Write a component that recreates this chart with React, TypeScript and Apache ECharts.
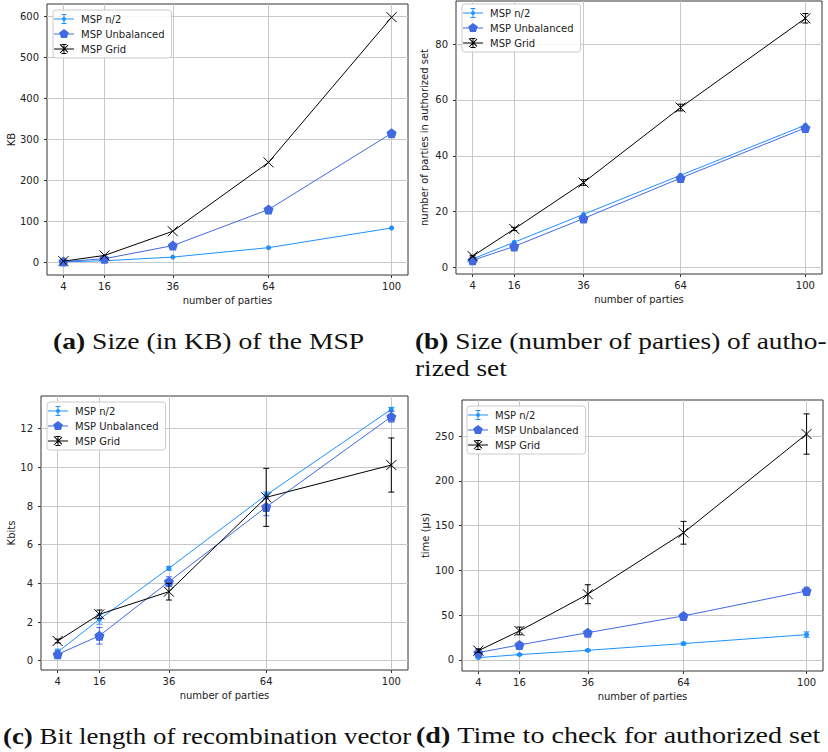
import React, { useEffect, useRef } from "react";
import * as echarts from "echarts";

// ---------- data ----------
const parties = [4, 16, 36, 64, 100];
const seriesNames = ["MSP n/2", "MSP Unbalanced", "MSP Grid"];

// (a) size in KB of the MSP
const kbN2 = [0.5, 3, 12, 35, 83];
const kbUnbalanced = [1, 8, 40, 128, 314];
const kbGrid = [2, 16, 75, 243, 597];
const kbN2Err = [0, 0, 0, 0, 0];
const kbUnbalancedErr = [0, 0, 0, 0, 0];
const kbGridErr = [0, 0, 0, 0, 0];
const kbTicks = [0, 100, 200, 300, 400, 500, 600];

// (b) number of parties in authorized set
const setN2 = [3, 9, 19, 33, 51];
const setUnbalanced = [2.5, 7.5, 17.5, 32, 50];
const setGrid = [4, 13.75, 30.4, 57.3, 89.3];
const setN2Err = [0, 0, 0, 0, 0];
const setUnbalancedErr = [0, 0, 0, 0, 0];
const setGridErr = [0.3, 0.6, 1.0, 1.2, 1.7];
const setTicks = [0, 20, 40, 60, 80];

// (c) bit length of recombination vector (Kbits)
const bitsN2 = [0.45, 2.14, 4.78, 8.57, 13.0];
const bitsUnbalanced = [0.33, 1.29, 4.09, 7.95, 12.62];
const bitsGrid = [1.02, 2.4, 3.57, 8.45, 10.12];
const bitsN2Err = [0.15, 0.25, 0.1, 0.15, 0.1];
const bitsUnbalancedErr = [0.2, 0.43, 0.25, 0.45, 0.28];
const bitsGridErr = [0.1, 0.22, 0.43, 1.5, 1.4];
const bitsTicks = [0, 2, 4, 6, 8, 10, 12];

// (d) time to check for authorized set (µs)
const timeN2 = [2.6, 6, 10.8, 18.3, 28.3];
const timeUnbalanced = [8.2, 16.8, 30.5, 49.2, 77.1];
const timeGrid = [10.4, 32.4, 73.4, 142, 252.2];
const timeN2Err = [0.5, 0.8, 1, 1.5, 3];
const timeUnbalancedErr = [1, 1.5, 2, 2.5, 4];
const timeGridErr = [2, 4.3, 10.6, 12.7, 22.5];
const timeTicks = [0, 50, 100, 150, 200, 250];

const captionA = "Size (in KB) of the MSP";
const captionB1 = "Size (number of parties) of autho-";
const captionB2 = "rized set";
const captionC = "Bit length of recombination vector";
const captionD = "Time to check for authorized set";

// ---------- styles ----------
const COLORS = ["#1e90ff", "#4169e1", "#000000"];
const FONT = "DejaVu Sans";
const SERIF = "Liberation Serif";

const PENTAGON = "path://M50,0 L97.55,34.55 L79.39,90.45 L20.61,90.45 L2.45,34.55 Z";
const XMARK = "path://M0,0 L10,10 M10,0 L0,10";

const LINE_RECT = "M0,4.5 H20 V5.5 H0 Z";
const ICON_N2 =
  "path://" +
  LINE_RECT +
  " M9.5,0 H10.5 V10 H9.5 Z M7.5,0 H12.5 V0.9 H7.5 Z M7.5,9.1 H12.5 V10 H7.5 Z" +
  " M8,5 A2,2 0 1 1 12,5 A2,2 0 1 1 8,5 Z";
const ICON_UNB =
  "path://" + LINE_RECT + " M10,0 L14.76,3.45 L12.94,9.05 L7.06,9.05 L5.24,3.45 Z M0,0 H0.01 V10 H0 Z";
const ICON_GRID =
  "path://" +
  LINE_RECT +
  " M9.5,0 H10.5 V10 H9.5 Z M7.5,0 H12.5 V0.9 H7.5 Z M7.5,9.1 H12.5 V10 H7.5 Z" +
  " M5.65,0.65 L6.35,-0.05 L14.35,7.95 L13.65,8.65 Z" +
  " M13.65,0.65 L14.35,1.35 L6.35,9.35 L5.65,8.65 Z";

type Panel = {
  grid: { left: number; top: number; width: number; height: number };
  yMin: number;
  yMax: number;
  yTicks: number[];
  yName: string;
  yNameGap: number;
  values: number[][];
  errors: number[][];
  legend: { left: number; top: number };
};

const panels: Panel[] = [
  {
    grid: { left: 47, top: 4, width: 361, height: 271 },
    yMin: -31.7,
    yMax: 629.3,
    yTicks: kbTicks,
    yName: "KB",
    yNameGap: 30,
    values: [kbN2, kbUnbalanced, kbGrid],
    errors: [kbN2Err, kbUnbalancedErr, kbGridErr],
    legend: { left: 53, top: 10 },
  },
  {
    grid: { left: 456, top: 1, width: 366, height: 273 },
    yMin: -2.4,
    yMax: 95.5,
    yTicks: setTicks,
    yName: "number of parties in authorized set",
    yNameGap: 27,
    values: [setN2, setUnbalanced, setGrid],
    errors: [setN2Err, setUnbalancedErr, setGridErr],
    legend: { left: 462, top: 4 },
  },
  {
    grid: { left: 41, top: 396, width: 367, height: 274 },
    yMin: -0.48,
    yMax: 13.69,
    yTicks: bitsTicks,
    yName: "Kbits",
    yNameGap: 25,
    values: [bitsN2, bitsUnbalanced, bitsGrid],
    errors: [bitsN2Err, bitsUnbalancedErr, bitsGridErr],
    legend: { left: 47, top: 402 },
  },
  {
    grid: { left: 462, top: 400, width: 361, height: 271 },
    yMin: -12.3,
    yMax: 290.2,
    yTicks: timeTicks,
    yName: "time (µs)",
    yNameGap: 32,
    values: [timeN2, timeUnbalanced, timeGrid],
    errors: [timeN2Err, timeUnbalancedErr, timeGridErr],
    legend: { left: 467, top: 406 },
  },
];

const symbols = ["circle", PENTAGON, XMARK];
const symbolSizes = [5, 10, 10];
const legendIcons = [ICON_N2, ICON_UNB, ICON_GRID];

function buildOption() {
  const grids: any[] = [];
  const xAxes: any[] = [];
  const yAxes: any[] = [];
  const series: any[] = [];
  const legends: any[] = [];

  panels.forEach((p, i) => {
    grids.push({
      ...p.grid,
      show: true,
      borderColor: "#333",
      borderWidth: 1,
      backgroundColor: "transparent",
    });
    xAxes.push({
      type: "value",
      gridIndex: i,
      min: -0.8,
      max: 104.8,
      name: "number of parties",
      nameLocation: "middle",
      nameGap: 20,
      nameTextStyle: { fontFamily: FONT, fontSize: 10, color: "#222" },
      axisLine: { show: false, onZero: false },
      axisTick: { show: true, length: 3, customValues: parties, lineStyle: { color: "#333" } },
      axisLabel: {
        customValues: parties,
        fontFamily: FONT,
        fontSize: 10,
        color: "#222",
        margin: 6,
      },
      splitLine: { show: true, lineStyle: { color: "#c8c8c8", width: 1 } },
    });
    yAxes.push({
      type: "value",
      gridIndex: i,
      min: p.yMin,
      max: p.yMax,
      name: p.yName,
      nameLocation: "middle",
      nameGap: p.yNameGap,
      nameTextStyle: { fontFamily: FONT, fontSize: 10, color: "#222" },
      axisLine: { show: false, onZero: false },
      axisTick: { show: true, length: 3, customValues: p.yTicks, lineStyle: { color: "#333" } },
      axisLabel: {
        customValues: p.yTicks,
        fontFamily: FONT,
        fontSize: 10,
        color: "#222",
        margin: 8,
      },
      splitLine: { show: true, lineStyle: { color: "#c8c8c8", width: 1 } },
    });

    p.values.forEach((vals, s) => {
      const color = COLORS[s];
      const errs = p.errors[s];
      const errData = parties
        .map((x, k) => [x, vals[k] - errs[k], vals[k] + errs[k], errs[k]])
        .filter((d) => d[3] > 0);
      series.push({
        type: "custom",
        name: "err-" + i + "-" + s,
        xAxisIndex: i,
        yAxisIndex: i,
        data: errData,
        encode: { x: 0, y: [1, 2] },
        silent: true,
        z: 2 + s,
        renderItem: (_params: any, api: any) => {
          const x = api.value(0);
          const lo = api.coord([x, api.value(1)]);
          const hi = api.coord([x, api.value(2)]);
          const w = 3;
          const style = { stroke: color, lineWidth: 1 };
          return {
            type: "group",
            children: [
              { type: "line", shape: { x1: lo[0], y1: lo[1], x2: hi[0], y2: hi[1] }, style },
              { type: "line", shape: { x1: lo[0] - w, y1: lo[1], x2: lo[0] + w, y2: lo[1] }, style },
              { type: "line", shape: { x1: hi[0] - w, y1: hi[1], x2: hi[0] + w, y2: hi[1] }, style },
            ],
          };
        },
      });
      series.push({
        type: "line",
        name: seriesNames[s],
        xAxisIndex: i,
        yAxisIndex: i,
        data: parties.map((x, k) => [x, vals[k]]),
        symbol: symbols[s],
        symbolSize: symbolSizes[s],
        showSymbol: true,
        showAllSymbol: true,
        z: 2 + s,
        lineStyle: { color, width: 1 },
        itemStyle:
          s === 2
            ? { color, borderColor: color, borderWidth: 1 }
            : { color, borderWidth: 0 },
        emphasis: { disabled: true },
      });
    });

    legends.push({
      orient: "vertical",
      left: p.legend.left,
      top: p.legend.top,
      itemWidth: 24,
      itemHeight: 10,
      itemGap: 3,
      padding: [3, 7, 3, 1],
      backgroundColor: "rgba(255,255,255,0.85)",
      borderColor: "#cccccc",
      borderWidth: 1,
      borderRadius: 3,
      selectedMode: false,
      textStyle: { fontFamily: FONT, fontSize: 10, color: "#222", lineHeight: 12 },
      data: seriesNames.map((n, s) => ({
        name: n,
        icon: legendIcons[s],
        itemStyle: { color: COLORS[s], borderWidth: 0 },
      })),
    });
  });

  const caption = (text: string, x: number, y: number, sx: number) => ({
    type: "text",
    x,
    y,
    scaleX: sx,
    style: {
      text,
      x: 0,
      y: 0,
      align: "left",
      verticalAlign: "middle",
      fontFamily: SERIF,
      fontSize: 24,
      fill: "#111",
      rich: {
        b: { fontFamily: SERIF, fontSize: 24, fontWeight: "bold", fill: "#111" },
        n: { fontFamily: SERIF, fontSize: 24, fill: "#111" },
      },
    },
  });

  const graphic = [
    caption("{b|(a)} {n|" + captionA + "}", 53, 341, 1.15),
    caption("{b|(b)} {n|" + captionB1 + "}", 415, 341, 1.14),
    caption("{n|" + captionB2 + "}", 415, 368.5, 1.14),
    caption("{b|(c)} {n|" + captionC + "}", 3, 735.5, 1.12),
    caption("{b|(d)} {n|" + captionD + "}", 416, 735.5, 1.17),
  ];

  return {
    animation: false,
    backgroundColor: "#ffffff",
    grid: grids,
    xAxis: xAxes,
    yAxis: yAxes,
    legend: legends,
    series,
    graphic,
  };
}

export default function App() {
  const ref = useRef<HTMLDivElement>(null);
  useEffect(() => {
    document.body.style.margin = "0";
    if (!ref.current) return;
    const chart = echarts.init(ref.current, undefined, { renderer: "svg" });
    chart.setOption(buildOption() as any);
    return () => chart.dispose();
  }, []);
  return <div ref={ref} style={{ width: 828, height: 752 }} />;
}
